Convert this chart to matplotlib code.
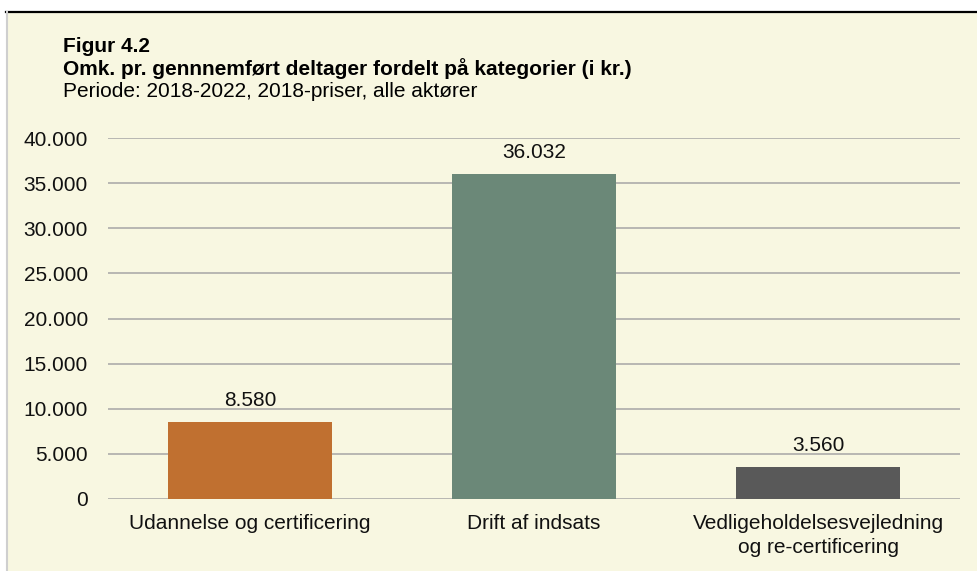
import matplotlib
matplotlib.use("Agg")
import matplotlib.pyplot as plt
from matplotlib.patches import Rectangle
from matplotlib.lines import Line2D
from matplotlib.ticker import FuncFormatter

plt.rcParams['font.family'] = ['Liberation Sans', 'DejaVu Sans']

categories = ["Udannelse og certificering", "Drift af indsats",
              "Vedligeholdelsesvejledning\nog re-certificering"]
values = [8580, 36032, 3560]
colors = ["#C07030", "#6B8878", "#595959"]
yticks = [0, 5000, 10000, 15000, 20000, 25000, 30000, 35000, 40000]

title1 = "Figur 4.2"
title2 = "Omk. pr. gennnemført deltager fordelt på kategorier (i kr.)"
subtitle = "Periode: 2018-2022, 2018-priser, alle aktører"

W, H = 977, 571
bg = "#F8F7E1"
FS = 15
fig = plt.figure(figsize=(W / 100, H / 100), dpi=100, facecolor=bg)

# white margins at top and left
fig.patches.append(Rectangle((0, 1 - 11 / H), 1, 11 / H, transform=fig.transFigure,
                             facecolor="white", edgecolor="none", zorder=-5))
fig.patches.append(Rectangle((0, 0), 6 / W, 1, transform=fig.transFigure,
                             facecolor="white", edgecolor="none", zorder=-5))
fig.lines.append(Line2D([6 / W, 1], [1 - 11.5 / H, 1 - 11.5 / H], transform=fig.transFigure,
                        color="black", linewidth=1.6, zorder=-4))
fig.lines.append(Line2D([6.5 / W, 6.5 / W], [0, 1 - 12 / H], transform=fig.transFigure,
                        color="#CFCFCF", linewidth=1.5, zorder=-4))

ax = fig.add_axes([108 / W, 1 - 499 / H, (960 - 108) / W, (499 - 138) / H])
ax.set_zorder(2)
ax.set_facecolor("none")
x = list(range(len(categories)))
bars = ax.bar(x, values, width=0.574, color=colors, zorder=3)
ax.set_xlim(-0.5, len(categories) - 0.5)
ax.set_ylim(0, 40000)
ax.set_yticks(yticks)
ax.yaxis.set_major_formatter(FuncFormatter(lambda v, p: f"{int(v):,}".replace(",", ".")))
ax.grid(axis="y", color="#A6A6A6", linewidth=1.1, zorder=0)
ax.set_axisbelow(True)
for s in ax.spines.values():
    s.set_visible(False)
ax.tick_params(axis="both", length=0, labelsize=FS, colors="#111111")
ax.tick_params(axis="y", pad=14.4)
ax.tick_params(axis="x", pad=11)
ax.set_xticks(x)
ax.set_xticklabels(categories, linespacing=1.3)

for b, v in zip(bars, values):
    ax.annotate(f"{v:,}".replace(",", "."), (b.get_x() + b.get_width() / 2, v),
                xytext=(0, 11.5), textcoords="offset points", ha="center", va="baseline",
                fontsize=FS, color="#111111")

fig.text(63 / W, 1 - 52 / H, title1, fontsize=FS, fontweight="bold", va="baseline")
fig.text(63 / W, 1 - 74.5 / H, title2, fontsize=FS, fontweight="bold", va="baseline")
fig.text(63 / W, 1 - 97 / H, subtitle, fontsize=FS, va="baseline")

fig.savefig("out.png", dpi=100, facecolor=bg)
